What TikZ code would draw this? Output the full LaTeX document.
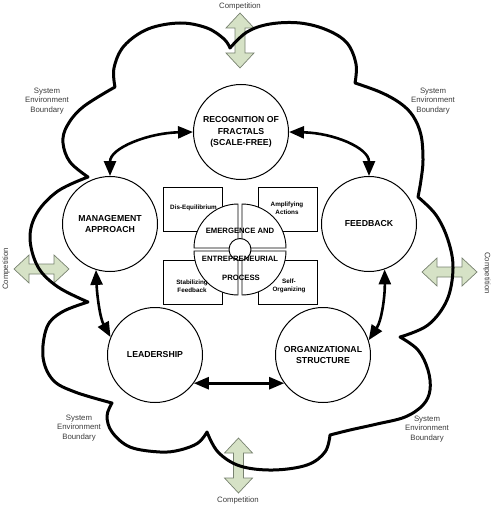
\documentclass[tikz,border=0pt]{standalone}
\usepackage{fontspec}
\setmainfont{Liberation Sans}
\usetikzlibrary{arrows.meta}
\definecolor{arrowgreen}{RGB}{214,226,198}
\definecolor{arrowedge}{RGB}{120,130,112}
\definecolor{labelgray}{RGB}{60,60,60}
\begin{document}
\begin{tikzpicture}[x=1pt,y=-1pt,
 bigc/.style={circle,draw,line width=1pt,minimum size=95pt,inner sep=0pt,align=center,font=\fontsize{8.7}{11.5}\selectfont\bfseries},
 boxnode/.style={rectangle,draw,line width=0.8pt,minimum width=59pt,minimum height=44pt,inner sep=0pt},
 boxtext/.style={align=center,font=\fontsize{6.3}{8}\selectfont\bfseries,inner sep=0pt},
 coretext/.style={font=\fontsize{7.7}{9}\selectfont\bfseries,inner sep=0pt},
 outer/.style={align=center,text=labelgray,font=\fontsize{7.8}{9.3}\selectfont,inner sep=0pt},
 link/.style={line width=2.6pt,{Triangle[length=15pt,width=12pt]}-{Triangle[length=15pt,width=12pt]}},
 cloudline/.style={line width=3pt,line join=round},
 sector/.style={draw,fill=white,line width=0.9pt},
 greenarrow/.style={fill=arrowgreen,draw=arrowedge,line width=0.7pt},
 dblarrow/.pic={\path[greenarrow] (-27.5,0) -- (-12.5,-14) -- (-12.5,-5) -- (12.5,-5) -- (12.5,-14) -- (27.5,0) -- (12.5,14) -- (12.5,5) -- (-12.5,5) -- (-12.5,14) -- cycle;}
]
\useasboundingbox (0,0) rectangle (493,505);

% green competition arrows
\pic[rotate=90] at (240,40.5) {dblarrow};
\pic[rotate=90] at (238.5,465.5) {dblarrow};
\pic at (41.5,269) {dblarrow};
\pic at (449.5,272) {dblarrow};

% cloud boundary
\draw[cloudline] (230,48)
 -- plot[smooth,tension=0.6] coordinates {(230,48) (247,32) (270,24) (300,23) (327,30) (347,43) (356,64) (355,83)}
 -- plot[smooth,tension=0.6] coordinates {(355,83) (380,92) (400,103) (413,116) (421,135) (423,160) (421,180) (418,197)}
 -- plot[smooth,tension=0.6] coordinates {(418,197) (436,215) (448,240) (453,268) (447,300) (428,325) (400,337)}
 -- plot[smooth,tension=0.6] coordinates {(400,337) (418,350) (428,370) (430,390) (423,405) (405,417) (377,424) (350,430) (330,435)}
 -- plot[smooth,tension=0.6] coordinates {(330,435) (325,452) (307,465) (273,470) (240,466) (218,452) (207,432)}
 -- plot[smooth,tension=0.6] coordinates {(207,432) (198,443) (180,450) (160,452) (130,447) (112,432) (107,416) (112,403)}
 -- plot[smooth,tension=0.6] coordinates {(112,403) (75,392) (53,380) (43,357) (47,327) (62,312) (88,302)}
 -- plot[smooth,tension=0.6] coordinates {(88,302) (58,287) (38,267) (30,238) (37,213) (58,191) (88,177)}
 -- plot[smooth,tension=0.6] coordinates {(88,177) (70,162) (63,143) (67,126) (83,107) (115,87)}
 -- plot[smooth,tension=0.6] coordinates {(115,87) (114,68) (124,46) (148,29) (180,23) (207,28) (224,39) (230,48)}
 -- cycle;

% outer labels
\node[outer] (ctop) at (240,6) {Competition};
\node[outer] (cbot) at (238,500) {Competition};
\node[outer,rotate=90] (cleft) at (6,269) {Competition};
\node[outer,rotate=-90] (cright) at (487,273) {Competition};
\node[outer] (sebtl) at (47,101) {System\\Environment\\Boundary};
\node[outer] (sebtr) at (433,101) {System\\Environment\\Boundary};
\node[outer] (sebbl) at (79,428) {System\\Environment\\Boundary};
\node[outer] (sebbr) at (427,429) {System\\Environment\\Boundary};

% main circles
\node[bigc] (rec) at (241,132) {RECOGNITION OF\\FRACTALS\\(SCALE-FREE)};
\node[bigc] (man) at (110,224) {MANAGEMENT\\APPROACH};
\node[bigc] (fb) at (369,224) {FEEDBACK};
\node[bigc] (lead) at (155,355) {LEADERSHIP};
\node[bigc] (org) at (323,355) {ORGANIZATIONAL\\STRUCTURE};

% connectors
\draw[link] (rec.180) .. controls (148,133) and (110,148) .. (man.90);
\draw[link] (rec.0) .. controls (334,133) and (369,148) .. (fb.90);
\draw[link] (man.253) .. controls (97,295) and (100,318) .. (lead.158);
\draw[link] (fb.289) .. controls (385,295) and (382,320) .. (org.18);
\draw[link] (lead.-36) -- (org.216);

% central boxes
\node[boxnode] (dis) at (192.5,209) {};
\node[boxnode] (amp) at (287.5,209) {};
\node[boxnode] (stab) at (192.5,282.5) {};
\node[boxnode] (selforg) at (287.5,282.5) {};

% central sectors
\draw[sector] (238,248) -- ++(-44,0) arc[start angle=180,end angle=90,radius=44pt] -- cycle;
\draw[sector] (242,248) -- ++(44,0) arc[start angle=0,end angle=90,radius=44pt] -- cycle;
\draw[sector] (238,251) -- ++(-44,0) arc[start angle=180,end angle=270,radius=44pt] -- cycle;
\draw[sector] (242,251) -- ++(44,0) arc[start angle=0,end angle=-90,radius=44pt] -- cycle;
\node[circle,draw,fill=white,line width=0.9pt,minimum size=22pt,inner sep=0pt] (hub) at (240,249.5) {};

% box texts
\node[boxtext] (distext) at (193.5,208) {Dis-Equilibrium};
\node[boxtext] (amptext) at (287,208) {Amplifying\\Actions};
\node[boxtext] (stabtext) at (192,286) {Stabilizing\\Feedback};
\node[boxtext] (selftext) at (289,286) {Self-\\Organizing};

% core text
\node[coretext] (t1) at (240,231) {EMERGENCE AND};
\node[coretext] (t2) at (240,259) {ENTREPRENEURIAL};
\node[coretext] (t3) at (241,278) {PROCESS};
\end{tikzpicture}
\end{document}
